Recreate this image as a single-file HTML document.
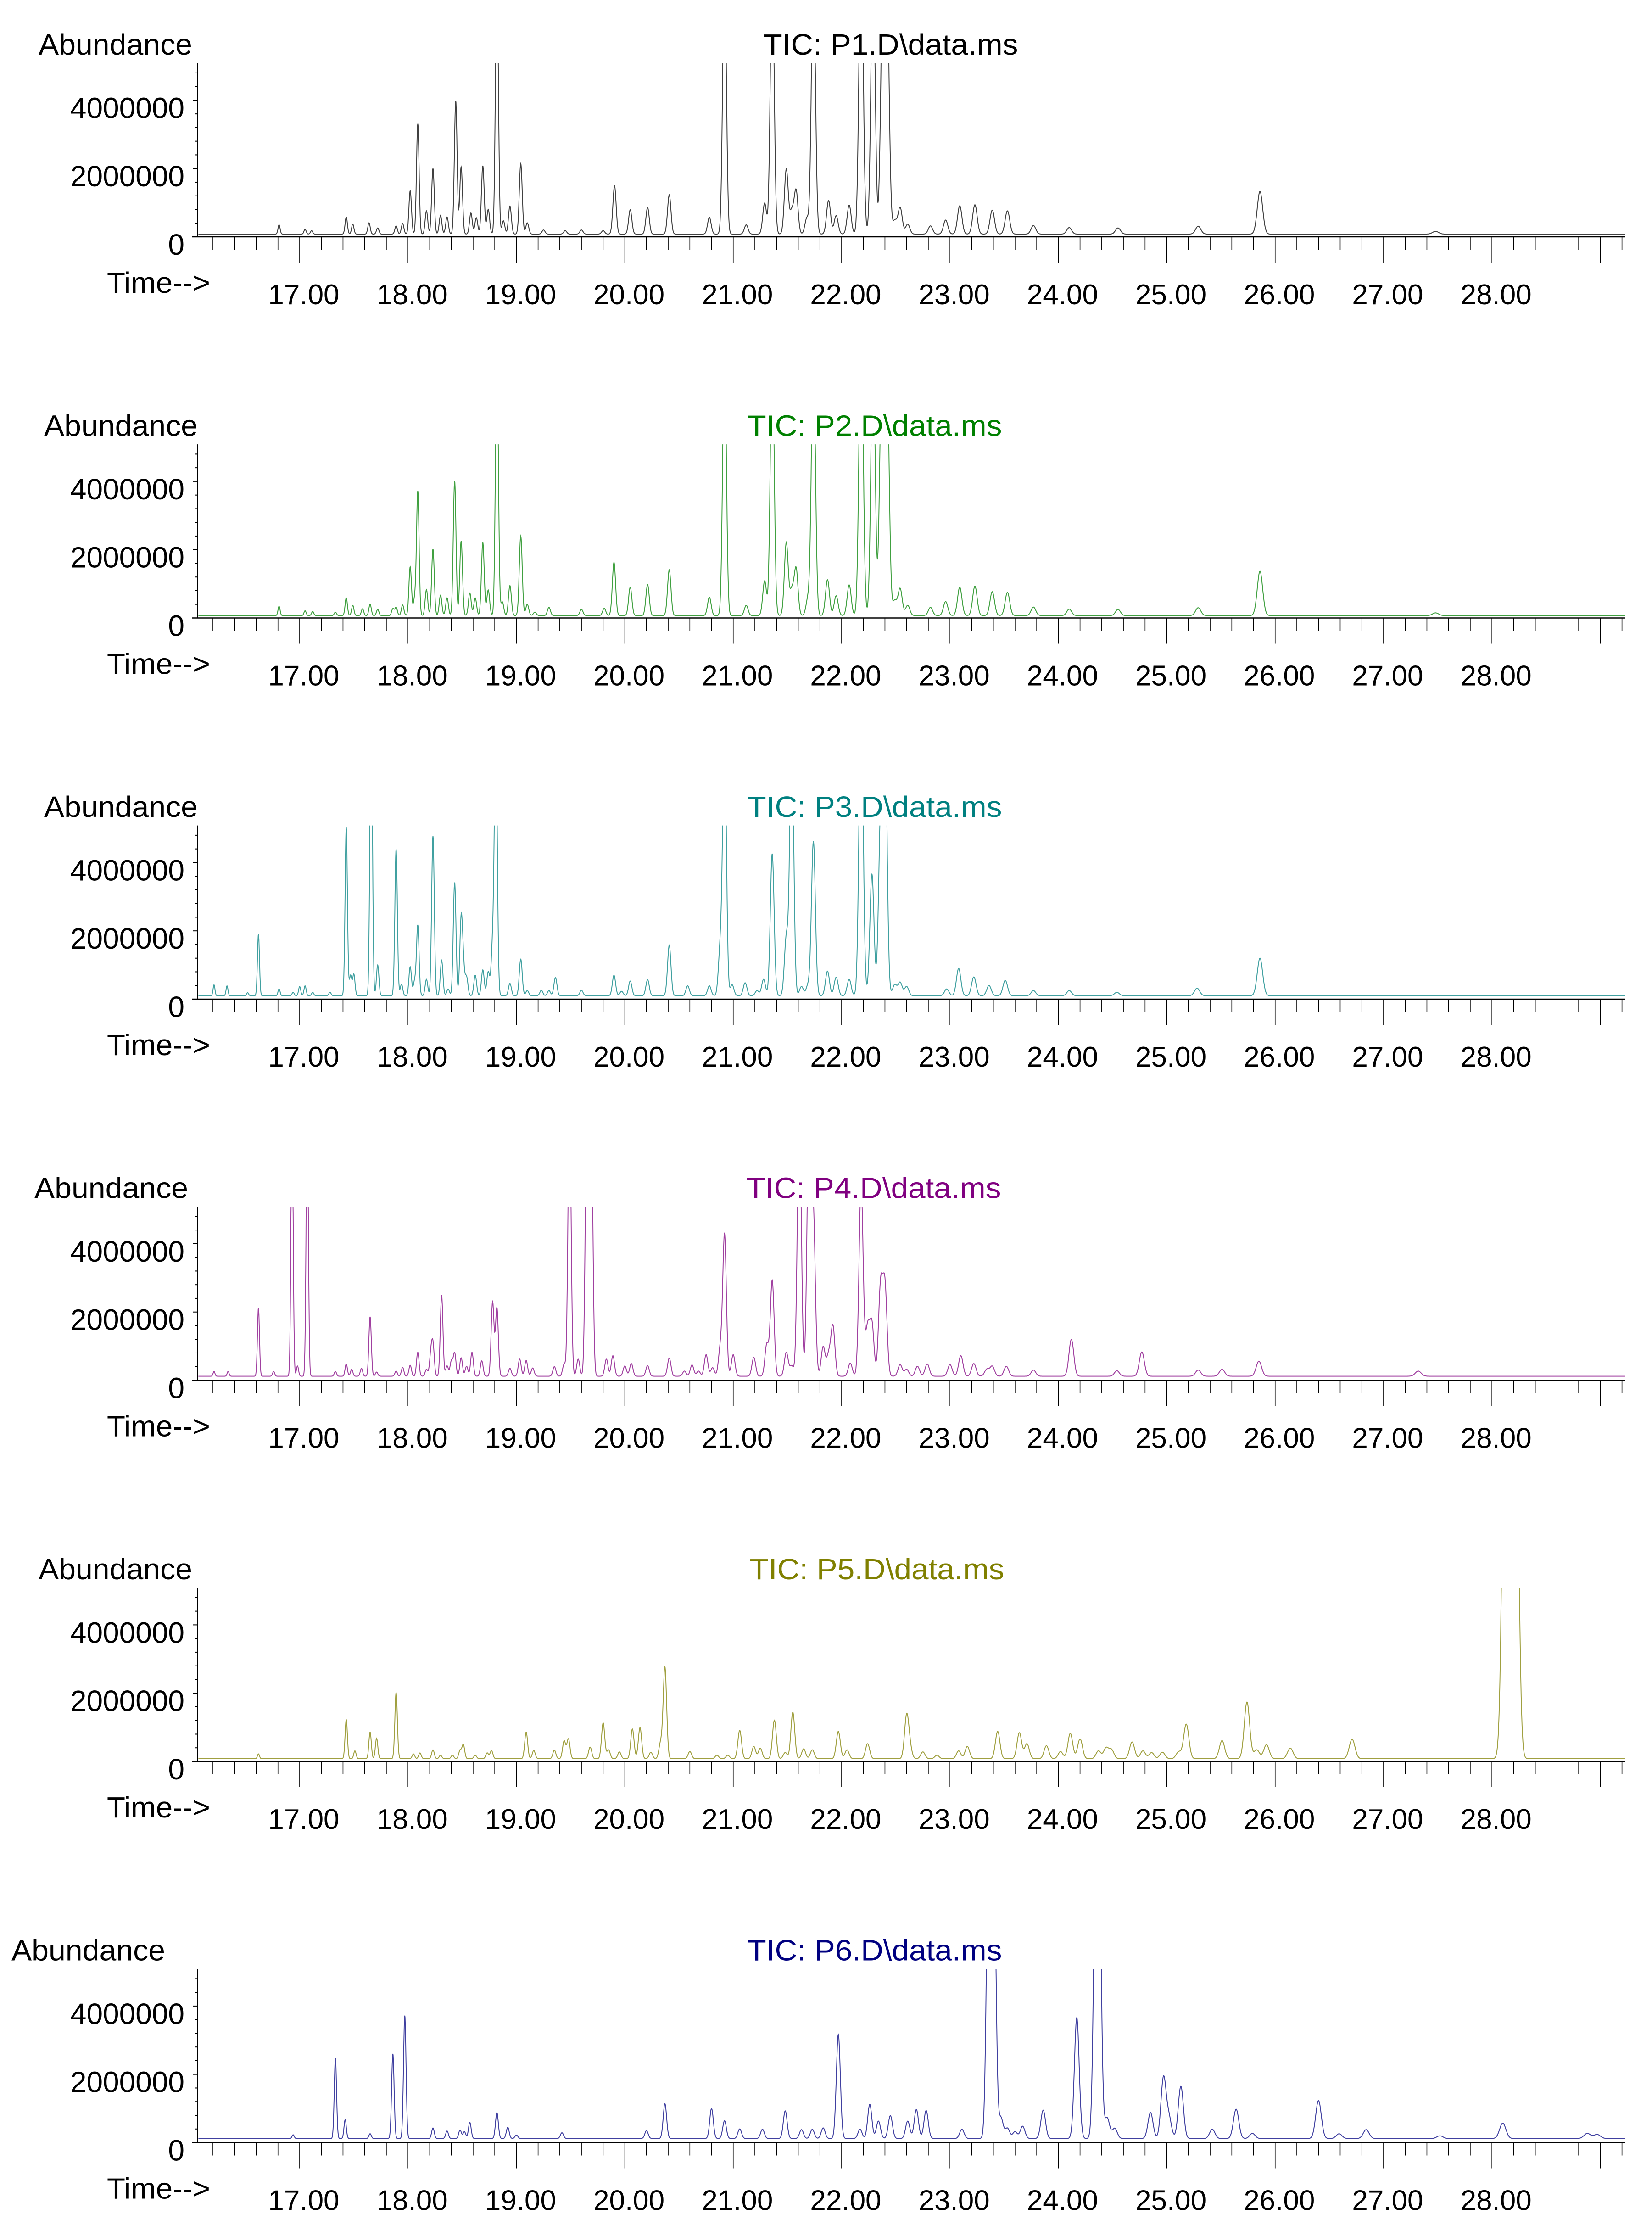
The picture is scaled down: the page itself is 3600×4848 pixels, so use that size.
<!DOCTYPE html>
<html><head><meta charset="utf-8"><style>
html,body{margin:0;padding:0;background:#fff;}
svg{display:block;}
text{font-family:"Liberation Sans",Arial,sans-serif;}
</style></head>
<body>
<svg id="chart" xmlns="http://www.w3.org/2000/svg" width="3600" height="4848" viewBox="0 0 3600 4848">
<rect x="0" y="0" width="3600" height="4848" fill="#fff"/>
</svg>
<script>
// ---- data ----
const panelNames = ["TIC: P1.D\\data.ms","TIC: P2.D\\data.ms","TIC: P3.D\\data.ms","TIC: P4.D\\data.ms","TIC: P5.D\\data.ms","TIC: P6.D\\data.ms"];
const panelColors = ["#000000","#008000","#008080","#800080","#808000","#000080"];
const yTickValues = [0, 2000000, 4000000];
const yTickLabels = ["0","2000000","4000000"];
const xTickValues = [17,18,19,20,21,22,23,24,25,26,27,28];
const xTickLabels = ["17.00","18.00","19.00","20.00","21.00","22.00","23.00","24.00","25.00","26.00","27.00","28.00"];
const baselines = [0.08, 0.07, 0.1, 0.12, 0.08, 0.12]; // million

const p1Times = [16.81,17.05,17.11,17.43,17.49,17.64,17.72,17.89,17.95,18.02,18.09,18.17,18.23,18.30,18.36,18.44,18.49,18.58,18.63,18.69,18.74,18.82,18.88,18.94,19.04,19.10,19.25,19.45,19.6,19.8,19.905,20.05,20.21,20.41,20.78,20.92,21.12,21.29,21.36,21.49,21.54,21.58,21.68,21.74,21.88,21.95,22.07,22.18,22.29,22.38,22.42,22.49,22.54,22.61,22.82,22.96,23.09,23.23,23.39,23.53,23.77,24.10,24.55,25.29,25.86,27.48];
const p1Heights = [0.27,0.14,0.1,0.5,0.29,0.33,0.18,0.24,0.31,1.27,3.23,0.68,1.92,0.55,0.5,3.9,1.97,0.62,0.48,2.0,0.72,8,0.39,0.82,2.06,0.33,0.12,0.1,0.12,0.1,1.42,0.71,0.78,1.15,0.49,8,0.27,0.91,8,1.9,0.64,1.27,0.47,8,0.98,0.54,0.85,9,8,7,7,0.39,0.78,0.29,0.24,0.41,0.83,0.86,0.7,0.68,0.25,0.19,0.18,0.23,1.25,0.08];

const p2Times = [16.81,17.05,17.12,17.33,17.43,17.49,17.58,17.65,17.72,17.86,17.89,17.95,18.02,18.06,18.09,18.17,18.23,18.30,18.36,18.43,18.49,18.57,18.62,18.69,18.74,18.82,18.87,18.94,19.04,19.10,19.17,19.30,19.60,19.81,19.90,20.05,20.21,20.41,20.78,20.92,21.12,21.29,21.36,21.49,21.54,21.58,21.69,21.74,21.87,21.95,22.07,22.18,22.29,22.37,22.42,22.49,22.54,22.61,22.82,22.96,23.09,23.23,23.39,23.53,23.77,24.10,24.55,25.29,25.86,27.48];
const p2Heights = [0.27,0.14,0.12,0.1,0.52,0.3,0.2,0.33,0.18,0.2,0.24,0.31,1.43,0.46,3.64,0.76,1.95,0.6,0.52,3.95,2.18,0.66,0.52,2.14,0.75,8,0.4,0.88,2.33,0.33,0.1,0.24,0.18,0.21,1.56,0.83,0.91,1.34,0.54,8,0.3,1.02,8,2.14,0.71,1.37,0.5,8,1.05,0.58,0.9,9,8,7,7,0.43,0.79,0.3,0.24,0.41,0.83,0.86,0.7,0.68,0.25,0.19,0.18,0.23,1.3,0.08];

const p3Times = [16.21,16.33,16.52,16.62,16.81,16.94,17.0,17.05,17.12,17.28,17.43,17.47,17.50,17.66,17.72,17.89,17.94,18.02,18.06,18.09,18.17,18.23,18.31,18.37,18.43,18.49,18.51,18.54,18.62,18.69,18.74,18.78,18.81,18.94,19.04,19.10,19.23,19.30,19.36,19.6,19.90,19.97,20.05,20.21,20.41,20.58,20.78,20.88,20.92,20.99,21.11,21.22,21.28,21.36,21.49,21.54,21.63,21.69,21.74,21.87,21.95,22.07,22.18,22.28,22.36,22.40,22.49,22.54,22.60,22.97,23.08,23.22,23.36,23.51,23.77,24.10,24.54,25.28,25.86];
const p3Heights = [0.32,0.29,0.09,1.8,0.2,0.1,0.27,0.29,0.1,0.1,4.95,0.59,0.63,9,0.9,4.29,0.34,0.85,0.41,2.06,0.48,4.68,1.04,0.2,3.32,2.17,0.77,0.54,0.6,0.76,0.7,1.43,8,0.36,1.07,0.15,0.16,0.15,0.53,0.16,0.6,0.13,0.43,0.47,1.48,0.29,0.29,1.36,8,0.32,0.38,0.15,0.48,4.16,1.7,8,0.27,0.3,4.52,0.72,0.54,0.48,9,3.56,4.92,8,0.32,0.39,0.27,0.2,0.8,0.55,0.3,0.45,0.15,0.15,0.1,0.22,1.1];

const p4Times = [16.21,16.34,16.62,16.76,16.93,16.98,17.07,17.33,17.43,17.48,17.57,17.65,17.71,17.89,17.95,18.02,18.09,18.17,18.21,18.23,18.31,18.36,18.40,18.43,18.49,18.54,18.59,18.68,18.78,18.82,18.94,19.03,19.09,19.15,19.35,19.44,19.49,19.57,19.65,19.69,19.83,19.89,20.0,20.06,20.21,20.41,20.55,20.62,20.68,20.75,20.81,20.88,20.92,21.0,21.19,21.31,21.36,21.49,21.54,21.61,21.70,21.74,21.83,21.88,21.92,22.08,22.18,22.24,22.28,22.36,22.40,22.54,22.60,22.70,22.79,23.0,23.10,23.22,23.34,23.39,23.52,23.77,24.12,24.54,24.77,25.29,25.51,25.85,27.32];
const p4Heights = [0.14,0.14,2.0,0.14,8,0.3,8,0.14,0.36,0.2,0.23,1.74,0.12,0.15,0.26,0.32,0.7,0.2,0.6,0.9,2.37,0.3,0.44,0.68,0.54,0.29,0.7,0.45,2.17,2.0,0.23,0.5,0.46,0.24,0.28,0.35,8,0.5,8,8,0.5,0.6,0.3,0.37,0.31,0.53,0.15,0.33,0.15,0.63,0.25,0.78,4.14,0.63,0.55,0.93,2.8,0.7,0.3,8,8,4.5,0.86,0.6,1.46,0.38,5.6,1.4,1.5,2.6,2.6,0.34,0.2,0.29,0.36,0.34,0.6,0.37,0.2,0.29,0.29,0.18,1.08,0.16,0.71,0.18,0.2,0.44,0.15];

const p5Times = [16.62,17.43,17.51,17.65,17.71,17.89,18.05,18.11,18.23,18.30,18.41,18.48,18.51,18.62,18.73,18.77,19.09,19.16,19.35,19.44,19.48,19.68,19.80,19.85,19.95,20.07,20.14,20.24,20.33,20.37,20.60,20.85,20.95,21.06,21.19,21.25,21.38,21.48,21.55,21.65,21.73,21.97,22.05,22.24,22.60,22.63,22.75,22.88,23.08,23.16,23.44,23.64,23.71,23.89,24.02,24.11,24.20,24.37,24.44,24.49,24.68,24.78,24.86,24.96,25.11,25.18,25.51,25.74,25.83,25.92,26.14,26.71,28.13,28.17,28.21];
const p5Heights = [0.14,1.15,0.23,0.78,0.6,1.94,0.14,0.17,0.26,0.1,0.1,0.24,0.41,0.1,0.17,0.24,0.78,0.24,0.25,0.52,0.58,0.34,1.05,0.26,0.2,0.87,0.91,0.19,0.45,2.68,0.21,0.1,0.1,0.83,0.36,0.31,1.13,0.18,1.36,0.29,0.26,0.8,0.26,0.44,1.23,0.3,0.2,0.1,0.23,0.36,0.8,0.76,0.44,0.38,0.21,0.74,0.58,0.23,0.31,0.26,0.49,0.23,0.18,0.19,0.2,1.01,0.53,1.66,0.26,0.41,0.31,0.57,15,15,15];

const p6Times = [16.94,17.33,17.42,17.65,17.86,17.97,18.23,18.36,18.48,18.52,18.57,18.82,18.92,19.0,19.42,20.20,20.37,20.80,20.92,21.06,21.27,21.48,21.63,21.73,21.83,21.97,22.17,22.26,22.34,22.45,22.61,22.69,22.78,23.11,23.36,23.40,23.47,23.53,23.60,23.67,23.86,24.17,24.35,24.37,24.45,24.52,24.85,24.97,25.02,25.13,25.42,25.64,25.79,26.40,26.59,26.84,27.52,28.10,28.88,28.97];
const p6Heights = [0.11,2.35,0.55,0.14,2.48,3.6,0.31,0.22,0.25,0.2,0.47,0.76,0.33,0.1,0.17,0.23,1.02,0.88,0.52,0.28,0.27,0.81,0.26,0.27,0.31,3.05,0.27,1.0,0.51,0.67,0.51,0.85,0.82,0.27,10,10,0.6,0.3,0.2,0.36,0.83,3.54,8,8,0.6,0.3,0.76,1.77,0.6,1.53,0.27,0.86,0.15,1.11,0.14,0.26,0.08,0.45,0.15,0.12];

const allTimes = [p1Times,p2Times,p3Times,p4Times,p5Times,p6Times];
const allHeights = [p1Heights,p2Heights,p3Heights,p4Heights,p5Heights,p6Heights];

// ---- layout ----
const NS = "http://www.w3.org/2000/svg";
const svg = document.getElementById('chart');
const PANEL_DY = 830.5;
const X0 = 430, X1 = 3542, T0 = 16.056, PX_PER_MIN = 236.2;
const TOP = 137.6, BASE = 516, PX_PER_M = 74.4;
const abundX = [84,96,96,75,84,25];
const titleCX = [1941,1906,1906,1904,1911,1906];

function xScale(t){ return X0 + (t - T0) * PX_PER_MIN; }
function yScale(vM, dy){ return dy + BASE - vM * PX_PER_M; }
function mk(tag, attrs, parent){
  const e = document.createElementNS(NS, tag);
  for (const k in attrs) e.setAttribute(k, attrs[k]);
  (parent || svg).appendChild(e);
  return e;
}
function sigmaAt(t){ return 0.010 + 0.0017 * (t - 17); }

for (let p = 0; p < 6; p++){
  const dy = p * PANEL_DY;
  const g = mk('g', {});
  
  

  const ab = mk('text', {x: abundX[p], y: dy + 119, 'font-size': 64, textLength: 335, lengthAdjust: 'spacingAndGlyphs', fill: '#000'}, g);
  ab.textContent = 'Abundance';
  
  

  const ti = mk('text', {x: titleCX[p], y: dy + 119, 'font-size': 64, 'text-anchor': 'middle', textLength: 555, lengthAdjust: 'spacingAndGlyphs', fill: panelColors[p]}, g);
  ti.textContent = panelNames[p];
  
  

  const tm = mk('text', {x: 233, y: dy + 638, 'font-size': 64, textLength: 225, lengthAdjust: 'spacingAndGlyphs', fill: '#000'}, g);
  tm.textContent = 'Time-->';
  
  

  const ya = mk('line', {x1: X0, y1: dy + TOP, x2: X0, y2: dy + BASE, stroke: '#000', 'stroke-width': 2}, g);
  
  
  const xa = mk('line', {x1: 419, y1: dy + BASE, x2: X1, y2: dy + BASE, stroke: '#000', 'stroke-width': 2.5}, g);
  
  

  for (let k = 1; k <= 12; k++){
    const v = k * 0.4;
    const big = (k % 5 === 0);
    const tk = mk('line', {x1: X0 - (big ? 10 : 5), x2: X0, y1: yScale(v, dy), y2: yScale(v, dy), stroke: '#000', 'stroke-width': 2}, g);
    
    
  }
  for (let i = 0; i < yTickValues.length; i++){
    const yy = yScale(yTickValues[i] / 1e6, dy);
    const lb = mk('text', {x: 402, y: yy + 39, 'font-size': 64, 'text-anchor': 'end', fill: '#000'}, g);
    lb.textContent = yTickLabels[i];
    
    
  }
  for (let k = 81; k <= 146; k++){
    const t = k / 5;
    const major = (k % 5 === 0);
    const xx = xScale(t);
    const tk = mk('line', {x1: xx, x2: xx, y1: dy + BASE, y2: dy + BASE + (major ? 56 : 28), stroke: '#000', 'stroke-width': 1.6}, g);
    
    
  }
  for (let i = 0; i < xTickValues.length; i++){
    const lb = mk('text', {x: xScale(xTickValues[i]) + 9, y: dy + 663, 'font-size': 62, 'text-anchor': 'middle', fill: '#000'}, g);
    lb.textContent = xTickLabels[i];
    
    
  }

  const cp = mk('clipPath', {id: 'clip' + p}, g);
  mk('rect', {x: X0, y: dy + TOP, width: X1 - X0, height: BASE - TOP + 2}, cp);
  const times = allTimes[p], heights = allHeights[p];
  let d = '';
  const tEnd = T0 + (X1 - X0) / PX_PER_MIN;
  for (let t = T0 + 0.01; t <= tEnd; t += 0.002){
    let v = baselines[p];
    for (let j = 0; j < times.length; j++){
      const s = sigmaAt(times[j]);
      const z = (t - times[j]) / s;
      if (z > -7 && z < 7) v += heights[j] * Math.exp(-0.5 * z * z);
    }
    if (v > 5.3) v = 5.3;
    d += (d ? 'L' : 'M') + xScale(t).toFixed(1) + ',' + yScale(v, dy).toFixed(1);
  }
  const path = mk('path', {d: d, fill: 'none', stroke: panelColors[p], 'stroke-width': 2, 'stroke-opacity': 0.75, 'clip-path': 'url(#clip' + p + ')'}, g);
  
  
}
</script>
</body></html>
